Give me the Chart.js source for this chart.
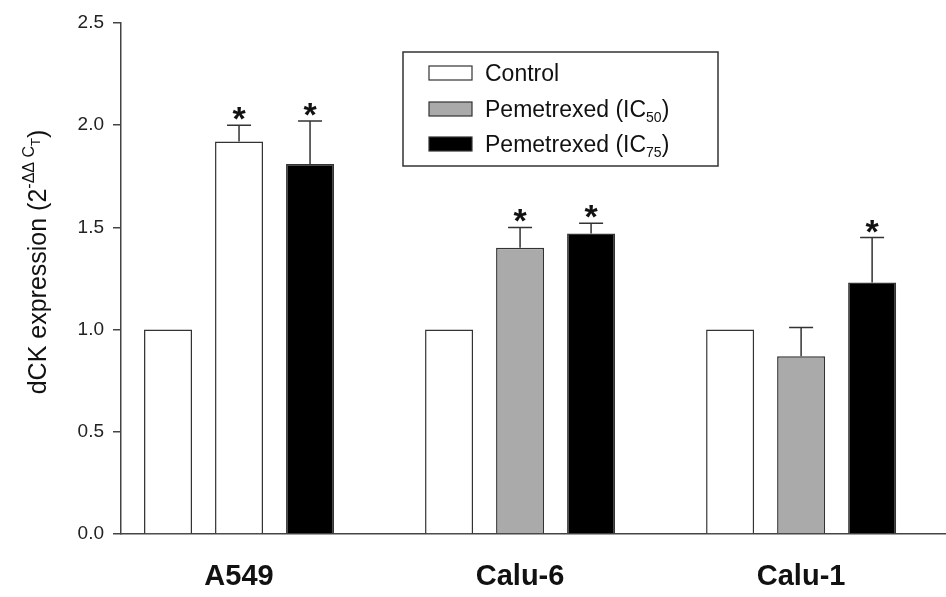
<!DOCTYPE html>
<html>
<head>
<meta charset="utf-8">
<script src="https://cdn.jsdelivr.net/npm/chart.js@4.4.0/dist/chart.umd.min.js"></script>
<style>
  html, body { margin: 0; padding: 0; background: #fff; }
  #wrap { width: 946px; height: 597px; }
</style>
</head>
<body>
<div id="wrap"><canvas id="dckChart" width="946" height="597"></canvas></div>
<script>
// 세포주 (x 위치 0, 1, 2)
const cellLines = ['A549', 'Calu-6', 'Calu-1'];
const seriesNames = ['Control', 'Pemetrexed (IC50)', 'Pemetrexed (IC75)'];

// 값
const controlValues = [1.00, 1.00, 1.00];
const ic50Values = [1.92, 1.40, 0.87];
const ic50Errors = [0.08, 0.10, 0.14];
const ic75Values = [1.81, 1.47, 1.23];
const ic75Errors = [0.21, 0.05, 0.22];

// 유의성 표시 (*)
const ic50Sig = [true, true, false];
const ic75Sig = [true, true, true];

// y축 눈금
const yTicks = [0, 0.5, 1.0, 1.5, 2.0, 2.5];

// 색상 (원본 그림에서 A549 IC50 막대는 흰색)
const ic50Colors = ['#ffffff', '#aaaaaa', '#aaaaaa'];
const legendColors = ['#ffffff', '#aaaaaa', '#000000'];

const FONT = "'Liberation Sans', Arial, Helvetica, sans-serif";

function toPoints(values) {
    return values.map((v, i) => ({ x: i, y: v }));
}

// 오차 막대 + 별표
const errorBarPlugin = {
    id: 'errorBars',
    afterDatasetsDraw(chart) {
        const ctx = chart.ctx;
        const yScale = chart.scales.y;
        chart.data.datasets.forEach((ds, di) => {
            if (!ds.errors) return;
            const meta = chart.getDatasetMeta(di);
            meta.data.forEach((bar, i) => {
                const top = yScale.getPixelForValue(ds.data[i].y + ds.errors[i]);
                ctx.save();
                ctx.strokeStyle = '#333';
                ctx.lineWidth = 1.5;
                ctx.beginPath();
                ctx.moveTo(bar.x, bar.y);
                ctx.lineTo(bar.x, top);
                ctx.moveTo(bar.x - 12, top);
                ctx.lineTo(bar.x + 12, top);
                ctx.stroke();
                if (ds.sig[i]) {
                    ctx.fillStyle = '#111';
                    ctx.font = 'bold 34px ' + FONT;
                    ctx.textAlign = 'center';
                    ctx.textBaseline = 'alphabetic';
                    ctx.fillText('*', bar.x, top + 5);
                }
                ctx.restore();
            });
        });
    }
};

// "IC50" -> 아래첨자
function drawSubLabel(ctx, text, x, y, size) {
    const m = text.match(/^(.*IC)(\d+)(\).*)$/);
    ctx.font = size + 'px ' + FONT;
    if (!m) {
        ctx.fillText(text, x, y);
        return;
    }
    ctx.fillText(m[1], x, y);
    x += ctx.measureText(m[1]).width;
    ctx.font = Math.round(size * 0.62) + 'px ' + FONT;
    ctx.fillText(m[2], x, y + size * 0.22);
    x += ctx.measureText(m[2]).width;
    ctx.font = size + 'px ' + FONT;
    ctx.fillText(m[3], x, y);
}

// 범례
const legendPlugin = {
    id: 'boxLegend',
    afterDraw(chart) {
        const ctx = chart.ctx;
        ctx.save();
        ctx.strokeStyle = '#333';
        ctx.lineWidth = 1.5;
        ctx.strokeRect(403, 52, 315, 114);
        const rowsY = [73, 109, 144];
        seriesNames.forEach((name, i) => {
            ctx.fillStyle = legendColors[i];
            ctx.fillRect(429, rowsY[i] - 7, 43, 14);
            ctx.strokeStyle = '#333';
            ctx.lineWidth = 1.2;
            ctx.strokeRect(429, rowsY[i] - 7, 43, 14);
            ctx.fillStyle = '#111';
            ctx.textAlign = 'left';
            ctx.textBaseline = 'alphabetic';
            drawSubLabel(ctx, name, 485, rowsY[i] + 8, 23);
        });
        ctx.restore();
    }
};

// y축 제목 (2^-ΔΔCT)
const yTitlePlugin = {
    id: 'yTitle',
    afterDraw(chart) {
        const ctx = chart.ctx;
        ctx.save();
        ctx.translate(46, 262);
        ctx.rotate(-Math.PI / 2);
        ctx.fillStyle = '#111';
        ctx.textBaseline = 'alphabetic';
        ctx.textAlign = 'left';
        const main = 'dCK expression (2';
        const sup = '-\u0394\u0394 C';
        ctx.font = '25px ' + FONT;
        const wMain = ctx.measureText(main).width;
        ctx.font = '16px ' + FONT;
        const wSup = ctx.measureText(sup).width;
        ctx.font = '13px ' + FONT;
        const wSub = ctx.measureText('T').width;
        ctx.font = '25px ' + FONT;
        const wClose = ctx.measureText(')').width;
        let x = -(wMain + wSup + wSub + wClose) / 2;
        ctx.font = '25px ' + FONT;
        ctx.fillText(main, x, 0);
        x += wMain;
        ctx.font = '16px ' + FONT;
        ctx.fillText(sup, x, -12);
        x += wSup;
        ctx.font = '13px ' + FONT;
        ctx.fillText('T', x, -6);
        x += wSub;
        ctx.font = '25px ' + FONT;
        ctx.fillText(')', x, 0);
        ctx.restore();
    }
};

document.addEventListener('DOMContentLoaded', () => {
    const ctx = document.getElementById('dckChart').getContext('2d');
    new Chart(ctx, {
        type: 'bar',
        data: {
            datasets: [
                {
                    label: seriesNames[0],
                    data: toPoints(controlValues),
                    backgroundColor: '#ffffff',
                    borderColor: '#333',
                    borderWidth: 1.5
                },
                {
                    label: seriesNames[1],
                    data: toPoints(ic50Values),
                    backgroundColor: ic50Colors,
                    borderColor: '#333',
                    borderWidth: 1.5,
                    errors: ic50Errors,
                    sig: ic50Sig
                },
                {
                    label: seriesNames[2],
                    data: toPoints(ic75Values),
                    backgroundColor: '#000000',
                    borderColor: '#333',
                    borderWidth: 1.5,
                    errors: ic75Errors,
                    sig: ic75Sig
                }
            ]
        },
        options: {
            responsive: false,
            animation: false,
            categoryPercentage: 0.758,
            barPercentage: 0.676,
            layout: { padding: { top: 23, right: 1, left: 0, bottom: 0 } },
            plugins: {
                legend: { display: false },
                tooltip: { enabled: false }
            },
            scales: {
                x: {
                    type: 'linear',
                    offset: false,
                    min: -0.42,
                    max: 2.512,
                    afterBuildTicks: s => { s.ticks = cellLines.map((c, i) => ({ value: i })); },
                    afterFit: s => { s.height = 63; },
                    ticks: {
                        callback: v => cellLines[v],
                        font: { family: FONT, size: 29, weight: 'bold' },
                        color: '#111',
                        padding: 26,
                        maxRotation: 0,
                        autoSkip: false
                    },
                    grid: { offset: false, drawOnChartArea: false, drawTicks: false },
                    border: { color: '#444', width: 1.5 }
                },
                y: {
                    min: 0,
                    max: 2.5,
                    afterBuildTicks: s => { s.ticks = yTicks.map(v => ({ value: v })); },
                    afterFit: s => { s.width = 121; },
                    ticks: {
                        callback: v => v.toFixed(1),
                        font: { family: FONT, size: 19 },
                        color: '#222',
                        padding: 9
                    },
                    grid: { drawOnChartArea: false, tickLength: 8, color: '#444', lineWidth: 1.5 },
                    border: { color: '#444', width: 1.5 }
                }
            }
        },
        plugins: [errorBarPlugin, legendPlugin, yTitlePlugin]
    });
});
</script>
</body>
</html>
